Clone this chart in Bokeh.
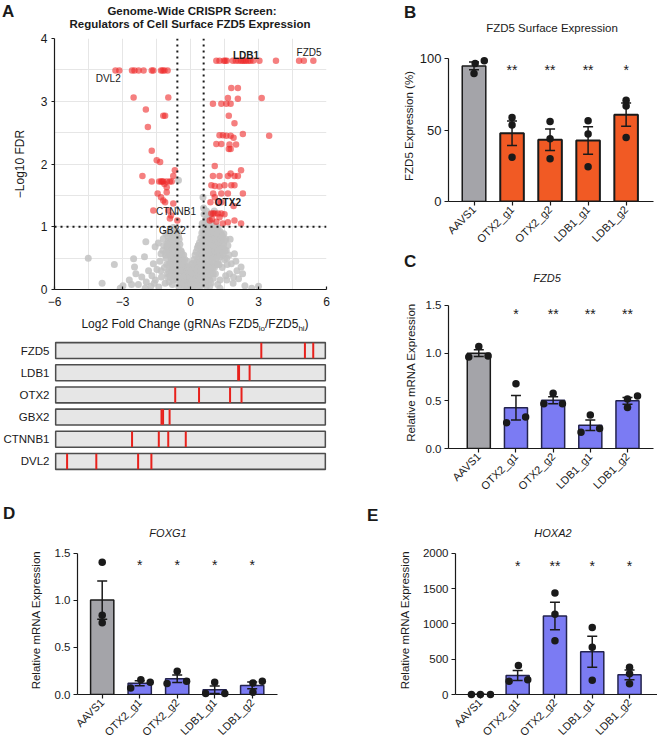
import numpy as np
from bokeh.plotting import figure
from bokeh.layouts import row, column
from bokeh.models import (ColumnDataSource, Range1d, FactorRange, FixedTicker, Span,
                          Whisker, TeeHead, NumeralTickFormatter, Div)
from bokeh.core.properties import value
from bokeh.embed import file_html
from bokeh.resources import INLINE

FONT = "Liberation Sans"
INK = "#1a1a1a"

# ---------------- Panel A: volcano data ----------------
grey_lfc = [-4.51, -3.90, -3.36, -2.98, -2.51, -2.47, -2.41, -2.03, -1.97, -1.85, -1.64, -1.56, -1.42, -1.30,
            -1.20, -1.09, -1.05, -0.98, -0.91, -0.83, -0.76, -3.10, -2.70, -2.30, -2.15, -1.95, -1.75, -1.70,
            -1.55, -1.48, -1.40, -1.35, -1.28, -1.22, -1.15, -1.12, -1.08, -1.02, -0.97, -0.94, -0.90, -0.87,
            -0.85, -0.82, -0.80, -0.78, -0.76, -0.74, -0.72, -0.70, -0.68, -0.66, -0.64, -0.62, -0.60, -0.58,
            -0.56, -0.54, -0.53, -0.52, -0.50, -0.48, -0.46, -0.44, -0.42, -0.40, -0.38, -0.36, -0.34, -0.32,
            -0.30, -0.28, -0.26, -0.24, -0.22, -0.20, -0.18, -0.16, -0.14, -0.12, -0.10, -0.08, -0.06, -0.04,
            -0.02, 0.00, 0.02, 0.04, 0.06, 0.08, 0.10, 0.12, 0.14, 0.16, 0.18, 0.20, 0.22, 0.24, 0.26, 0.28,
            0.30, 0.32, 0.34, 0.36, 0.38, 0.40, 0.42, 0.44, 0.46, 0.48, 0.50, 0.52, 0.54, 0.55, 0.56, 0.58,
            0.60, 0.60, 0.62, 0.64, 0.66, 0.66, 0.68, 0.70, 0.72, 0.72, 0.74, 0.76, 0.78, 0.80, 0.80, 0.82,
            0.84, 0.86, 0.88, 0.90, 0.92, 0.92, 0.95, 0.96, 0.98, 1.00, 1.02, 1.04, 1.07, 1.08, 1.10, 1.12,
            1.14, 1.16, 1.20, 1.22, 1.25, 1.28, 1.30, 1.32, 1.36, 1.40, 1.44, 1.47, 1.50, 1.55, 1.58, 1.62,
            1.65, 1.72, 1.80, 1.88, 1.94, 2.05, 2.12, 2.23, 2.40, 0.70, 0.90, 1.20, 1.00, 0.85, 0.75, 0.65,
            0.58, -0.65, -0.88, -1.00, 0.45, 0.35, 0.68, 1.05,
            -1.18, -1.10, -1.05, -1.00, -0.96, -0.93, -0.90, -0.88, -0.86, -0.84, -0.82, -0.80, -0.78, -0.76,
            -0.74, -0.72, -0.70, -0.69, -0.67, -0.65, -0.63, -0.61, -0.59, -0.57, -0.55, -0.53, -0.51, -0.49,
            -0.47, -0.45, -0.43, -0.41, -0.39, -0.37, -0.35, -0.33, -0.31, -0.29, -0.27, -0.25,
            -0.23, -0.21, -0.19, -0.17, -0.15, -0.13, -0.11, -0.09, -0.07, -0.05, -0.03, -0.01, 0.01, 0.03,
            0.05, 0.07, 0.09, 0.11, 0.13, 0.15, 0.17, 0.19, 0.21, 0.23, 0.25, 0.27, 0.29, 0.31, 0.33, 0.35,
            0.37, 0.39, 0.41, 0.43, 0.45, 0.47, 0.49, 0.51, 0.53, 0.55,
            0.57, 0.59, 0.61, 0.63, 0.65, 0.67, 0.69, 0.71, 0.73, 0.75, 0.77, 0.79, 0.81, 0.83, 0.85, 0.87,
            0.89, 0.91, 0.93, 0.94, 0.97, 0.99, 1.01, 1.03, 1.05, 1.06, 1.09, 1.11, 1.13, 1.15, 1.17, 1.19,
            1.21, 1.23, 1.26, 1.29, 1.31, 1.34, 1.38, 1.42, 1.46, 1.52, 1.56, 1.60, 1.70, 1.75, 2.00, 2.30,
            0.75, 0.62, 0.70, 0.58, -1.60, -1.30, -2.00, -2.60, 1.30, 1.60, 1.90, 2.70, 3.00,
            0.60, 0.62, 0.64, 0.66, 0.68, 0.70, 0.72, 0.74, 0.76, 0.78, 0.80, 0.82, 0.84, 0.86, 0.88, 0.90,
            0.92, 0.94, 0.96, 0.98, 1.00, 1.02, 1.04, 1.06, 1.08, 1.10, 1.12, 1.14, 1.16, 1.18, 1.20, 1.22,
            1.24, 1.27, 1.30, 1.33, 1.37, 1.41, 1.45, 1.49, 0.66, 0.78, 0.88, 0.70, 0.85, 1.00,
            -0.58, -0.60, -0.62, -0.64, -0.66, -0.68, -0.70, -0.72, -0.74, -0.76, -0.78, -0.80, -0.83, -0.86,
            -0.89, -0.92, -0.95, -0.98, -1.03, -1.07, -0.50, -0.45, -0.40, -0.35, -0.30, -0.25, -0.20, -0.15,
            -0.10, -0.05, 0.00, 0.05, 0.10, 0.15, 0.20, 0.25, 0.30, 0.35, 0.40, 0.45, 0.50, 0.55, 0.52]
grey_fdr = [0.50, 0.10, 0.40, 0.06, 0.49, 0.36, 0.25, 0.52, 0.76, 0.30, 0.41, 0.68, 0.74, 0.57,
            0.81, 0.89, 0.68, 0.77, 0.94, 0.86, 0.99, 0.02, 0.15, 0.08, 0.20, 0.12, 0.05, 0.22,
            0.15, 0.32, 0.04, 0.45, 0.20, 0.62, 0.35, 0.10, 0.50, 0.25, 0.60, 0.12, 0.42, 0.70,
            0.30, 0.55, 0.08, 0.80, 0.45, 0.20, 0.66, 0.90, 0.35, 0.55, 0.78, 0.15, 0.48, 0.92,
            0.28, 0.65, 1.74, 0.05, 0.40, 0.58, 0.18, 0.32, 0.50, 0.08, 0.26, 0.42, 0.14, 0.35,
            0.04, 0.22, 0.30, 0.10, 0.18, 0.28, 0.06, 0.15, 0.24, 0.02, 0.12, 0.20, 0.08, 0.16,
            0.26, 0.05, 0.14, 0.22, 0.03, 0.12, 0.30, 0.08, 0.18, 0.26, 0.05, 0.36, 0.15, 0.24, 0.44, 0.10,
            0.30, 0.50, 0.20, 0.38, 0.06, 0.56, 0.28, 0.44, 0.66, 0.16, 0.35, 0.78, 0.52, 1.47, 0.25, 0.90,
            0.62, 1.20, 0.40, 0.80, 0.12, 1.00, 0.55, 0.72, 0.30, 0.92, 0.48, 0.64, 0.84, 0.20, 1.08, 0.58,
            0.74, 0.40, 0.95, 0.66, 0.30, 0.84, 1.05, 0.52, 0.72, 0.90, 0.40, 0.62, 0.94, 0.80, 0.25, 0.55,
            0.70, 0.86, 0.45, 0.98, 0.62, 0.78, 0.15, 0.52, 0.88, 0.35, 0.66, 0.89, 0.48, 0.22, 0.62, 0.40,
            0.70, 0.25, 0.41, 0.10, 0.57, 0.30, 0.17, 0.36, 0.06, 0.05, 0.10, 0.08, 0.18, 0.15, 0.38, 0.22,
            0.08, 0.62, 0.30, 0.20, 0.60, 0.70, 1.12, 1.25,
            0.70, 0.55, 0.40, 0.85, 0.30, 0.75, 0.20, 0.58, 0.92, 0.45, 0.68, 0.35, 0.60, 0.15,
            0.90, 0.50, 0.25, 0.75, 0.42, 0.95, 0.62, 0.32, 0.72, 0.45, 0.18, 0.85, 0.55, 0.30,
            0.72, 0.12, 0.62, 0.40, 0.18, 0.55, 0.30, 0.48, 0.20, 0.40, 0.12, 0.36,
            0.05, 0.22, 0.35, 0.12, 0.30, 0.08, 0.20, 0.28, 0.12, 0.05, 0.20, 0.12, 0.28, 0.08,
            0.18, 0.25, 0.02, 0.20, 0.32, 0.10, 0.22, 0.40, 0.08, 0.30, 0.18, 0.25, 0.42, 0.12, 0.36, 0.26,
            0.55, 0.15, 0.45, 0.05, 0.30, 0.58, 0.40, 0.65, 0.20, 0.75,
            0.50, 0.35, 0.82, 0.60, 0.98, 0.40, 0.68, 0.88, 0.15, 0.58, 0.78, 1.02, 0.40, 0.90, 0.62, 0.80,
            0.25, 0.50, 0.98, 0.70, 0.85, 0.35, 0.60, 0.80, 0.98, 0.55, 0.72, 0.88, 0.40, 0.60, 1.00, 0.72,
            0.55, 0.85, 0.40, 0.68, 0.92, 0.60, 0.75, 0.55, 0.72, 0.62, 0.80, 0.50, 0.55, 0.80, 0.45, 0.25,
            1.12, 1.05, 1.25, 1.30, 0.10, 0.30, 0.02, 0.08, 0.02, 0.15, 0.20, 0.02, 0.05,
            0.45, 0.70, 0.92, 0.55, 0.30, 0.95, 0.62, 0.82, 0.35, 0.52, 0.70, 0.95, 0.30, 0.55, 0.75, 0.90,
            0.45, 0.62, 0.80, 1.00, 0.50, 0.70, 0.88, 0.35, 0.62, 0.82, 0.98, 0.50, 0.70, 0.88, 0.62, 0.40,
            0.75, 0.90, 0.55, 0.80, 0.65, 0.85, 0.58, 0.78, 1.10, 1.15, 1.20, 0.15, 0.05, 0.25,
            0.62, 0.85, 0.40, 0.70, 0.30, 0.60, 0.82, 0.45, 0.70, 0.58, 0.35, 0.92, 0.62, 0.50,
            0.80, 0.55, 0.40, 0.65, 0.72, 0.60, 0.80, 0.42, 0.60, 0.40, 0.55, 0.48, 0.38, 0.45,
            0.35, 0.30, 0.35, 0.40, 0.42, 0.48, 0.55, 0.60, 0.66, 0.70, 0.75, 0.82, 0.90, 0.95, 1.05]

red_lfc = [1.14, 1.28, 1.47, 1.53, 1.60, 1.87, 2.00, 2.12, 2.23, 2.30, 2.38, 2.45, 2.55, 2.64, 2.77, 3.04,
           3.77, 4.79, 5.00, 5.42,
           -3.31, -3.14, -2.58, -2.47, -2.29, -2.07, -1.71, -1.64, -1.30, -1.23, -1.15, -1.01,
           -2.51, -0.98, -1.97, -1.20, -1.12, -1.88, -1.71, -1.49, -1.34, -0.69, -2.12, -0.76, -1.71, -1.30,
           -1.20, -1.05, -0.91, -0.83, -1.15, -1.05, -1.45, -1.05, -1.30, -1.20, -1.12, -0.76, -1.64, -0.98,
           -0.86, -0.91, -0.58, -1.38, -1.25,
           1.80, 2.09, 1.65, 2.09, 3.14, 0.99, 1.36, 1.58, 1.77, 1.69, 1.94, 1.28, 1.43, 1.58, 1.77, 1.90,
           2.31, 3.47, 1.14, 1.36, 1.72, 2.01, 1.69, 1.77, 1.07, 0.99, 1.28, 1.65, 1.94, 2.09, 2.23, 1.77,
           0.92, 1.07, 1.28, 1.50, 1.80, 1.94, 1.00, 1.36, 1.65, 2.31, 1.07, 0.88, 1.21, 1.36, 1.90, 0.92,
           1.00, 1.07, 1.21, 1.36, 1.50, 0.85, 1.14, 1.43, 1.65, 1.94, 2.23, 0.95, 1.28]
red_fdr = [3.645, 3.645, 3.645, 3.645, 3.645, 3.645, 3.645, 3.645, 3.645, 3.645, 3.645, 3.645, 3.645, 3.645,
           3.645, 3.645, 3.645, 3.645, 3.645, 3.645,
           3.49, 3.49, 3.49, 3.49, 3.49, 3.49, 3.49, 3.49, 3.49, 3.49, 3.49, 3.49,
           3.06, 3.06, 2.87, 2.77, 2.77, 2.59, 2.21, 2.06, 2.03, 1.90, 1.81, 1.81, 1.72, 1.72,
           1.72, 1.72, 1.72, 1.72, 1.68, 1.63, 1.53, 1.55, 1.47, 1.42, 1.39, 1.37, 1.26, 1.26,
           1.18, 1.13, 1.10, 1.72, 1.72,
           3.21, 3.21, 3.05, 3.04, 3.05, 2.96, 2.96, 2.96, 2.96, 2.77, 2.65, 2.46, 2.46, 2.45, 2.45, 2.42,
           2.48, 2.45, 2.32, 2.32, 2.31, 2.31, 2.24, 2.24, 1.97, 1.81, 1.81, 1.81, 1.81, 1.81, 1.90, 1.85,
           1.66, 1.65, 1.64, 1.66, 1.66, 1.66, 1.53, 1.53, 1.53, 1.53, 1.47, 1.39, 1.39, 1.39, 1.33, 1.21,
           1.21, 1.21, 1.21, 1.21, 1.20, 1.10, 1.08, 1.05, 1.07, 1.10, 1.05, 1.12, 1.15]

plain_names = ["DVL2", "FZD5", "CTNNB1", "GBX2"]
plain_lfc = [-3.63, 5.23, -0.64, -0.80]
plain_fdr = [3.37, 3.78, 1.25, 0.94]
bold_names = ["LDB1", "OTX2"]
bold_lfc = [2.45, 1.65]
bold_fdr = [3.73, 1.39]

lfc_cut = 0.58
fdr_cut = 1.0

# ---------------- Panel A: guide tracks ----------------
track_genes = ["FZD5", "LDB1", "OTX2", "GBX2", "CTNNB1", "DVL2"]
fzd5_guides = [3.15, 5.09, 5.46]
ldb1_guides = [2.12, 2.16, 2.63]
otx2_guides = [-0.68, 0.38, 1.76, 2.27]
gbx2_guides = [-1.29, -1.22, -0.93]
ctnnb1_guides = [-2.60, -1.41, -0.99, -0.21]
dvl2_guides = [-5.49, -4.19, -2.33, -1.74]
guide_sets = [fzd5_guides, ldb1_guides, otx2_guides, gbx2_guides, ctnnb1_guides, dvl2_guides]

# ---------------- Panels B-E: bar charts ----------------
categories = ["AAVS1", "OTX2_g1", "OTX2_g2", "LDB1_g1", "LDB1_g2"]

b_reps = [[96.5, 98.4, 89.6], [58.8, 53.5, 31.0], [56.0, 43.8, 29.9], [56.5, 47.2, 24.3], [70.8, 66.7, 44.7]]
b_stars = ["", "**", "**", "**", "*"]
c_reps = [[0.96, 1.07, 0.97], [0.27, 0.68, 0.33], [0.47, 0.58, 0.47], [0.17, 0.35, 0.21], [0.43, 0.52, 0.55]]
c_stars = ["", "*", "**", "**", "**"]
d_reps = [[1.405, 0.843, 0.762], [0.07, 0.158, 0.13], [0.116, 0.246, 0.14], [0.01, 0.13, 0.01], [0.025, 0.123, 0.14]]
d_stars = ["", "*", "*", "*", "*"]
e_reps = [[1.0, 1.0, 1.0], [187, 411, 210], [1439, 1136, 762], [949, 668, 201], [388, 294, 154]]
e_stars = ["", "*", "**", "*", "*"]

# horizontal dot placement within each bar (category units)
b_offsets = [[0.03, 0.27, 0.0], [0, 0, 0], [0, 0, 0], [0, 0, 0], [0, 0, 0]]
c_offsets = [[-0.27, 0, 0.25], [-0.25, 0, 0.26], [-0.25, 0, 0.25], [-0.25, 0, 0.25], [0, 0, 0.27]]
d_offsets = [[0, 0, 0], [-0.24, 0.03, 0.28], [-0.27, 0, 0.25], [-0.24, 0, 0.27], [0.02, 0.02, 0.27]]
e_offsets = [[-0.24, 0, 0.27], [-0.23, 0.02, 0.27], [0, 0, 0], [0, 0, 0], [0, 0, 0]]

GREY_BAR = "#a4a4a9"
ORANGE = "#f15a24"
BLUE = "#7b7bf3"
NAVY = "#23234d"


def base_fig(width, height, left, right, top, bottom, x_range, y_range):
    p = figure(width=width, height=height, x_range=x_range, y_range=y_range,
               output_backend="svg", toolbar_location=None,
               min_border_left=left, min_border_right=right,
               min_border_top=top, min_border_bottom=bottom)
    p.outline_line_color = None
    p.background_fill_color = "white"
    p.border_fill_color = "white"
    return p


def style_axis(ax, size):
    ax.axis_line_color = INK
    ax.axis_line_width = 1.2
    ax.major_tick_line_color = INK
    ax.major_tick_line_width = 1.2
    ax.minor_tick_line_color = None
    ax.major_label_text_font = FONT
    ax.major_label_text_font_size = size
    ax.major_label_text_color = INK
    ax.axis_label_text_font = FONT
    ax.axis_label_text_font_style = "normal"
    ax.axis_label_text_color = INK


def text_div(width, height, items):
    """items: (x, y_top, html, font_size, weight, style, centered)"""
    spans = []
    for x, y, txt, size, weight, style, centered in items:
        tf = "translateX(-50%)" if centered else "none"
        spans.append(
            f"<span style='position:absolute;left:{x}px;top:{y}px;transform:{tf};white-space:nowrap;"
            f"font-size:{size}px;font-weight:{weight};font-style:{style};line-height:1;color:{INK};'>{txt}</span>")
    html = (f"<div style='position:relative;width:{width}px;height:{height}px;"
            f"font-family:\"{FONT}\",Arial,sans-serif;'>" + "".join(spans) + "</div>")
    return Div(text=html, width=width, height=height, margin=(0, 0, 0, 0))


# ---------------- Volcano ----------------
div_a = text_div(370, 30, [
    (2, 3, "A", 17, "bold", "normal", False),
    (192, 6, "Genome-Wide CRISPR Screen:", 11.5, "bold", "normal", True),
    (190, 19, "Regulators of Cell Surface FZD5 Expression", 11.5, "bold", "normal", True),
])

pa = base_fig(370, 282, 52, 44, 8, 23, Range1d(-6, 6), Range1d(0, 4))
pa.scatter(grey_lfc, grey_fdr, size=7, fill_color="#c2c2c2", fill_alpha=0.85, line_color=None)
pa.scatter(red_lfc, red_fdr, size=6.5, fill_color="#ee2a2a", fill_alpha=0.6, line_color=None)
for loc in (-lfc_cut, lfc_cut):
    pa.add_layout(Span(location=loc, dimension="height", line_color=INK, line_width=2, line_dash="2 4"))
pa.add_layout(Span(location=fdr_cut, dimension="width", line_color=INK, line_width=2, line_dash="2 4"))
pa.text(plain_lfc, plain_fdr, text=plain_names, text_align="center", text_baseline="middle",
        text_font=value(FONT), text_font_size="10px", text_color=INK)
pa.text(bold_lfc, bold_fdr, text=bold_names, text_align="center", text_baseline="middle",
        text_font=value(FONT), text_font_size="10px", text_font_style="bold", text_color=INK)
pa.xaxis.ticker = FixedTicker(ticks=[-6, -3, 0, 3, 6], minor_ticks=[-4.5, -1.5, 1.5, 4.5])
pa.xaxis.major_label_overrides = {-6: "\u22126", -3: "\u22123"}
pa.yaxis.ticker = FixedTicker(ticks=[0, 1, 2, 3, 4], minor_ticks=[0.5, 1.5, 2.5, 3.5])
for ax in (pa.xaxis[0], pa.yaxis[0]):
    style_axis(ax, "12px")
    ax.major_label_standoff = 3
pa.xaxis.major_tick_in = 3
pa.xaxis.major_tick_out = 0
pa.yaxis.major_tick_in = 0
pa.yaxis.major_tick_out = 3
pa.yaxis.axis_label = "\u2212Log10 FDR"
pa.yaxis.axis_label_text_font_size = "12px"
pa.yaxis.axis_label_standoff = 11
for g in (pa.xgrid[0], pa.ygrid[0]):
    g.grid_line_color = "#e6e6e6"
    g.minor_grid_line_color = "#e6e6e6"
    g.level = "underlay"

# ---------------- Guide tracks ----------------
div_t = text_div(370, 23, [
    (195, 6, "Log2 Fold Change (gRNAs FZD5<sub style='font-size:8px'>lo</sub>/FZD5"
             "<sub style='font-size:8px'>hi</sub>)", 12, "normal", "normal", True),
])

pt = base_fig(370, 165, 52, 44, 4, 28, Range1d(-6.05, 6.05), FactorRange(factors=track_genes[::-1]))
pt.hbar(y=track_genes, left=-6, right=6, height=0.72, fill_color="#e6e6e6",
        line_color="#4d4d4d", line_width=1.6)
gx, gy = [], []
for gene, guides in zip(track_genes, guide_sets):
    for v in guides:
        gx.append(v)
        gy.append(gene)
pt.rect(x=gx, y=gy, width=2, width_units="screen", height=0.70, fill_color="#e8211c", line_color=None)
pt.xaxis.visible = False
pt.xgrid.visible = False
pt.ygrid.visible = False
style_axis(pt.yaxis[0], "11.5px")
pt.yaxis.axis_line_color = None
pt.yaxis.major_tick_line_color = None
pt.yaxis.major_tick_in = 0
pt.yaxis.major_tick_out = 0
pt.yaxis.major_label_standoff = 5


# ---------------- Bar panels ----------------
def bar_panel(reps, offsets, stars, star_y, bar_fill, bar_line, bar_lw, width, height, borders,
              x_start, x_end, y_end, y_ticks, y_fmt, ylabel, ylabel_standoff, ytick_size):
    left, right, top, bottom = borders
    p = base_fig(width, height, left, right, top, bottom, Range1d(x_start, x_end), Range1d(0, y_end))
    xs = list(range(len(categories)))
    means = [float(np.mean(r)) for r in reps]
    sems = [float(np.std(r, ddof=1) / np.sqrt(len(r))) for r in reps]
    src = ColumnDataSource(dict(
        x=xs, top=means,
        upper=[m + s for m, s in zip(means, sems)],
        lower=[m - s for m, s in zip(means, sems)],
        fill=[GREY_BAR] + [bar_fill] * (len(xs) - 1),
        line=[INK] + [bar_line] * (len(xs) - 1),
        lw=[1.5] + [bar_lw] * (len(xs) - 1),
        star=stars, star_y=[star_y] * len(xs)))
    p.vbar(x="x", top="top", width=0.62, fill_color="fill", line_color="line", line_width="lw", source=src)
    p.add_layout(Whisker(base="x", upper="upper", lower="lower", source=src, level="annotation",
                         line_color=INK, line_width=1.5,
                         upper_head=TeeHead(size=10, line_color=INK, line_width=1.5),
                         lower_head=TeeHead(size=10, line_color=INK, line_width=1.5)))
    dx, dy = [], []
    for i, (r, off) in enumerate(zip(reps, offsets)):
        for v, o in zip(r, off):
            dx.append(i + o)
            dy.append(v)
    p.scatter(dx, dy, size=7.5, fill_color=INK, line_color=None, level="annotation")
    p.text(x="x", y="star_y", text="star", source=src, text_align="center", text_baseline="middle",
           text_font=value(FONT), text_font_size="14px", text_color=INK)
    p.xgrid.visible = False
    p.ygrid.visible = False
    style_axis(p.xaxis[0], "11px")
    style_axis(p.yaxis[0], ytick_size)
    p.xaxis.ticker = FixedTicker(ticks=xs)
    p.xaxis.major_label_overrides = {i: c for i, c in enumerate(categories)}
    p.xaxis.major_label_orientation = float(np.pi / 4)
    p.xaxis.major_tick_in = 0
    p.xaxis.major_tick_out = 4
    p.xaxis.major_label_standoff = 2
    p.yaxis.ticker = FixedTicker(ticks=y_ticks)
    p.yaxis.bounds = (0, y_ticks[-1])
    if y_fmt:
        p.yaxis.formatter = NumeralTickFormatter(format=y_fmt)
    p.yaxis.major_tick_in = 0
    p.yaxis.major_tick_out = 4
    p.yaxis.major_label_standoff = 3
    p.yaxis.axis_label = ylabel
    p.yaxis.axis_label_text_font_size = "11.5px"
    p.yaxis.axis_label_standoff = ylabel_standoff
    return p


div_b = text_div(287, 40, [
    (34, 4, "B", 17, "bold", "normal", False),
    (182, 23, "FZD5 Surface Expression", 11.5, "normal", "normal", True),
])
pb = bar_panel(b_reps, b_offsets, b_stars, 91.7, ORANGE, INK, 2.0, 287, 212, (78, 4, 10, 50),
               -0.671, 4.72, 105.6, [0, 50, 100], None, "FZD5 Expression (%)", 2, "13px")

div_c = text_div(287, 38, [
    (34, 1, "C", 17, "bold", "normal", False),
    (177, 21, "FZD5", 11, "normal", "italic", True),
])
pc = bar_panel(c_reps, c_offsets, c_stars, 1.406, BLUE, NAVY, 1.5, 287, 210, (78, 4, 6, 52),
               -0.815, 4.70, 1.594, [0, 0.5, 1.0, 1.5], "0.0", "Relative mRNA Expression", 6, "11.5px")

div_d = text_div(330, 40, [
    (3, 5, "D", 17, "bold", "normal", False),
    (168, 28, "FOXG1", 11, "normal", "italic", True),
])
pd = bar_panel(d_reps, d_offsets, d_stars, 1.373, BLUE, NAVY, 1.5, 330, 205, (77, 53, 5, 50),
               -0.659, 4.675, 1.584, [0, 0.5, 1.0, 1.5], "0.0", "Relative mRNA Expression", 10, "11.5px")

div_e = text_div(327, 40, [
    (37, 7, "E", 17, "bold", "normal", False),
    (223, 28, "HOXA2", 11, "normal", "italic", True),
])
pe = bar_panel(e_reps, e_offsets, e_stars, 1818, BLUE, NAVY, 1.5, 327, 205, (125, 0, 5, 49),
               -0.667, 4.75, 2112, [0, 500, 1000, 1500, 2000], None, "Relative mRNA Expression", 9, "11.5px")

layout = column(
    row(column(div_a, pa, div_t, pt), column(div_b, pb, div_c, pc)),
    row(column(div_d, pd), column(div_e, pe)),
)
open("out.html", "w").write(file_html(layout, INLINE, title="FZD5 regulators"))
